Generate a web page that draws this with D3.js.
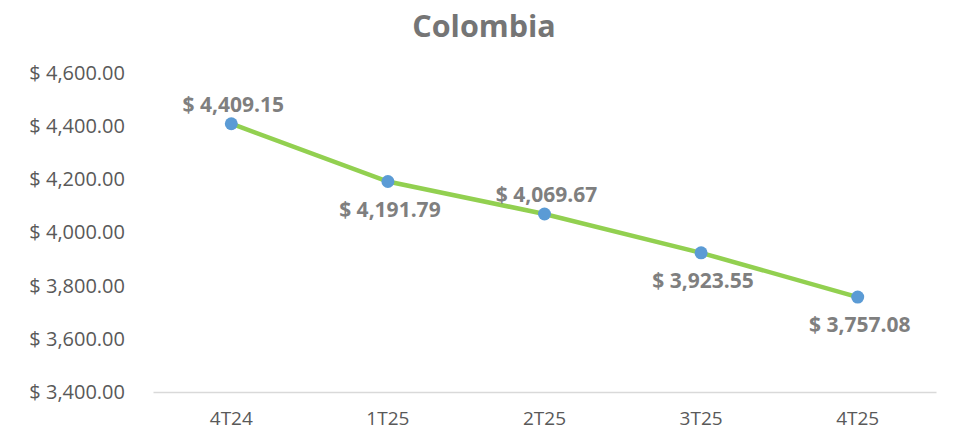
<!DOCTYPE html>
<html><head><meta charset="utf-8">
<script src="https://cdn.jsdelivr.net/npm/d3@7"></script>
<style>body{margin:0;background:#fff}svg{display:block}</style>
</head><body>
<script>
const categories = ["4T24","1T25","2T25","3T25","4T25"];
const values = [4409.15, 4191.79, 4069.67, 3923.55, 3757.08];
const labelPos = ["above","below","above","below","below"];
const yTicks = [3400,3600,3800,4000,4200,4400,4600];
const title = "Colombia";

const W=964,H=433;
const m={left:153,right:28,top:73,bottom:41};
const svg=d3.select("body").append("svg").attr("width",W).attr("height",H);
const font="'Open Sans', 'Noto Sans', sans-serif";
const x=d3.scaleBand().domain(categories).range([m.left,W-m.right]);
const y=d3.scaleLinear().domain([3400,4600]).range([H-m.bottom,m.top]);
const fmt=v=>"$ "+d3.format(",.2f")(v);

svg.append("text").attr("x",W/2+2).attr("y",37).attr("text-anchor","middle")
 .attr("font-family",font).attr("font-weight","bold").attr("font-size",30.5).attr("fill","#757575").text(title);

const ya=svg.append("g").attr("transform",`translate(${m.left},0)`)
 .call(d3.axisLeft(y).tickValues(yTicks).tickFormat(fmt).tickSize(0).tickPadding(28));
ya.select(".domain").remove();
ya.selectAll("text").attr("font-family",font).attr("font-size",20).attr("fill","#595959");

const xa=svg.append("g").attr("transform",`translate(0,${H-m.bottom})`)
 .call(d3.axisBottom(x).tickSize(0).tickPadding(20));
xa.select(".domain").attr("stroke","#d9d9d9").attr("stroke-width",1.5);
xa.selectAll("text").attr("font-family",font).attr("font-size",19).attr("fill","#595959");

const cx=d=>x(d)+x.bandwidth()/2;
const line=d3.line().x((d,i)=>cx(categories[i])).y(d=>y(d));
svg.append("path").datum(values).attr("d",line).attr("fill","none")
 .attr("stroke","#92D050").attr("stroke-width",4.5).attr("stroke-linecap","round");
svg.selectAll("circle").data(values).join("circle")
 .attr("cx",(d,i)=>cx(categories[i])).attr("cy",d=>y(d)).attr("r",6.5).attr("fill","#5B9BD5");
svg.selectAll("text.lbl").data(values).join("text").attr("class","lbl")
 .attr("x",(d,i)=>cx(categories[i])+2).attr("y",(d,i)=>y(d)+(labelPos[i]==="above"?-12:35))
 .attr("text-anchor","middle").attr("font-family",font).attr("font-weight","bold")
 .attr("font-size",21).attr("fill","#7f7f7f").text(fmt);
</script>
</body></html>
